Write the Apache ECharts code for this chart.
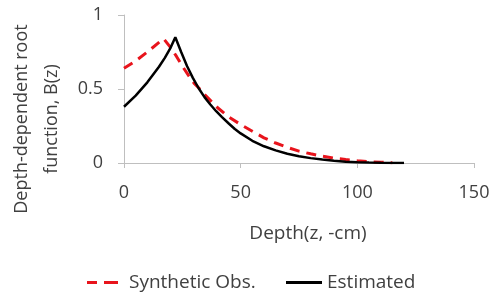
<!DOCTYPE html>
<html>
<head>
<meta charset="utf-8">
<script src="https://cdn.jsdelivr.net/npm/echarts@6/dist/echarts.min.js"></script>
<style>html,body{margin:0;padding:0;background:#fff;}#c{width:498px;height:296px;}</style>
</head>
<body>
<div id="c"></div>
<script>
var obsDepth = [0, 5, 10, 15, 17, 20, 22.5, 25, 27.5, 30, 32.5, 35, 37.5, 40, 45, 50, 55, 60, 65, 70, 75, 80, 85, 90, 95, 100, 105, 110, 115];
var obsValues = [0.64, 0.69, 0.75, 0.815, 0.84, 0.78, 0.72, 0.655, 0.595, 0.54, 0.50, 0.455, 0.415, 0.375, 0.31, 0.26, 0.215, 0.17, 0.135, 0.105, 0.08, 0.062, 0.046, 0.033, 0.023, 0.015, 0.009, 0.005, 0.002];
var estDepth = [0, 5, 10, 15, 17.5, 20, 22, 24.5, 27, 29.5, 32, 34.5, 37, 39.5, 42, 45, 47.5, 50, 55, 60, 65, 70, 75, 80, 85, 90, 95, 100, 105, 110, 115, 120];
var estValues = [0.38, 0.455, 0.545, 0.65, 0.71, 0.78, 0.85, 0.75, 0.655, 0.575, 0.505, 0.445, 0.395, 0.35, 0.31, 0.265, 0.23, 0.20, 0.15, 0.113, 0.085, 0.063, 0.046, 0.033, 0.023, 0.015, 0.009, 0.005, 0.003, 0.0015, 0.0005, 0];
var xTicks = [0, 50, 100, 150];
var yTicks = [0, 0.5, 1];
var seriesNames = ['Synthetic Obs.', 'Estimated'];
var xTitle = 'Depth(z, -cm)';
var yTitle = 'Depth-dependent root\nfunction, B(z)';

function pairs(xs, ys) { return xs.map(function (x, i) { return [x, ys[i]]; }); }

var font = '"Open Sans", "Noto Sans", sans-serif';
var textColor = '#404040';
var chart = echarts.init(document.getElementById('c'), null, {renderer: 'canvas'});
chart.setOption({
  animation: false,
  backgroundColor: '#fff',
  grid: {left: 124, right: 24, top: 15, bottom: 133, containLabel: false},
  xAxis: {
    type: 'value', min: xTicks[0], max: xTicks[xTicks.length - 1], interval: 50,
    axisLine: {show: true, lineStyle: {color: '#bfbfbf', width: 1}},
    axisTick: {show: true, length: 5, lineStyle: {color: '#bfbfbf'}},
    splitLine: {show: false},
    axisLabel: {fontFamily: font, fontSize: 18, color: textColor, margin: 21},
    name: xTitle, nameLocation: 'middle', nameGap: 61,
    nameTextStyle: {fontFamily: font, fontSize: 19, color: textColor, padding: [0, 0, 0, 18]}
  },
  yAxis: {
    type: 'value', min: yTicks[0], max: yTicks[yTicks.length - 1], interval: 0.5,
    axisLine: {show: true, lineStyle: {color: '#bfbfbf', width: 1}},
    axisTick: {show: true, length: 6, lineStyle: {color: '#bfbfbf'}},
    splitLine: {show: false},
    axisLabel: {fontFamily: font, fontSize: 18, color: textColor, margin: 21}
  },
  graphic: [{
    type: 'text', x: 37, y: 119, rotation: Math.PI / 2,
    style: {text: yTitle, fontFamily: font, fontSize: 18, fill: textColor,
      align: 'center', verticalAlign: 'middle', lineHeight: 30}
  }],
  legend: [{
    data: [{name: seriesNames[0], icon: 'path://M0,0L10,0L10,3L0,3Z M17,0L31,0L31,3L17,3Z'}],
    left: 82, top: 268, itemWidth: 31, itemHeight: 3, itemGap: 0,
    textStyle: {fontFamily: font, fontSize: 19, color: textColor, padding: [0, 0, 0, 6]}
  }, {
    data: [{name: seriesNames[1], icon: 'rect'}],
    left: 281, top: 268, itemWidth: 36, itemHeight: 3, itemGap: 0,
    textStyle: {fontFamily: font, fontSize: 19, color: textColor}
  }],
  series: [{
    name: seriesNames[0], type: 'line', data: pairs(obsDepth, obsValues),
    smooth: false, showSymbol: false, symbol: 'none',
    lineStyle: {color: '#e8141c', width: 3, type: [10, 7]},
    itemStyle: {color: '#e8141c'}
  }, {
    name: seriesNames[1], type: 'line', data: pairs(estDepth, estValues),
    smooth: false, showSymbol: false, symbol: 'none',
    lineStyle: {color: '#000', width: 2.5},
    itemStyle: {color: '#000'}
  }]
});
</script>
</body>
</html>
